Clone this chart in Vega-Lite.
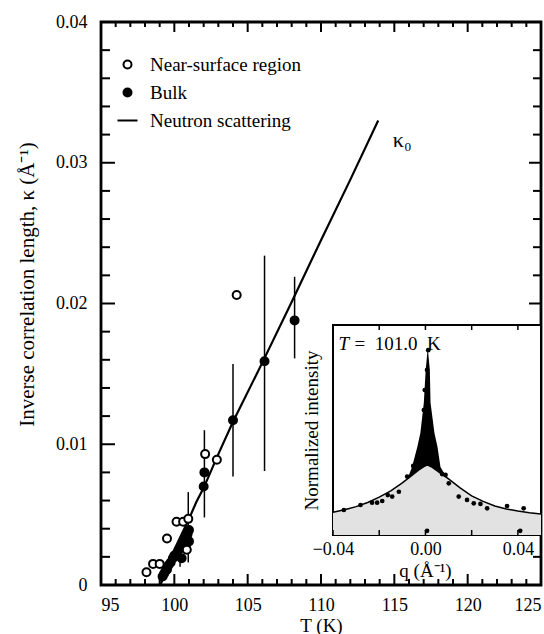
{
  "$schema": "https://vega.github.io/schema/vega-lite/v6.json",
  "autosize": {"type": "none"},
  "width": 440,
  "height": 563,
  "padding": {"left": 101, "top": 22, "right": 3, "bottom": 49},
  "view": {"stroke": "black", "strokeWidth": 2.8},
  "config": {"font": "Liberation Serif", "axis": {"labelColor": "black", "titleColor": "black", "ticks": false, "labelFont": "Liberation Serif", "titleFont": "Liberation Serif", "titleFontWeight": "normal", "grid": false, "domain": false, "labelOverlap": false, "labelFlush": false}},
  "datasets": {
    "fit": [
      {"T": 99.05, "kappa": 0.0},
      {"T": 99.5, "kappa": 0.0012},
      {"T": 100.0, "kappa": 0.0025},
      {"T": 100.5, "kappa": 0.0036},
      {"T": 101.0, "kappa": 0.0047},
      {"T": 101.5, "kappa": 0.0059},
      {"T": 102.0, "kappa": 0.0069},
      {"T": 103.0, "kappa": 0.0093},
      {"T": 104.0, "kappa": 0.0116},
      {"T": 106.0, "kappa": 0.0158},
      {"T": 108.0, "kappa": 0.0201},
      {"T": 110.0, "kappa": 0.0245},
      {"T": 112.0, "kappa": 0.0288},
      {"T": 113.9, "kappa": 0.033}
    ],
    "errs": [
      {"T": 100.39, "lo": 0.0013, "hi": 0.0025},
      {"T": 100.95, "lo": 0.0016, "hi": 0.0066},
      {"T": 102.05, "lo": 0.0048, "hi": 0.011},
      {"T": 104.0, "lo": 0.0077, "hi": 0.0157},
      {"T": 106.15, "lo": 0.0081, "hi": 0.0234},
      {"T": 108.2, "lo": 0.0161, "hi": 0.0219}
    ],
    "pts": [
      {"T": 99.2, "kappa": 0.0006, "region": "Bulk"},
      {"T": 99.3, "kappa": 0.0008, "region": "Bulk"},
      {"T": 99.4, "kappa": 0.001, "region": "Bulk"},
      {"T": 99.5, "kappa": 0.0011, "region": "Bulk"},
      {"T": 99.6, "kappa": 0.0014, "region": "Bulk"},
      {"T": 99.75, "kappa": 0.0016, "region": "Bulk"},
      {"T": 99.9, "kappa": 0.0019, "region": "Bulk"},
      {"T": 100.0, "kappa": 0.0021, "region": "Bulk"},
      {"T": 100.15, "kappa": 0.0022, "region": "Bulk"},
      {"T": 100.3, "kappa": 0.0025, "region": "Bulk"},
      {"T": 100.45, "kappa": 0.0027, "region": "Bulk"},
      {"T": 100.6, "kappa": 0.003, "region": "Bulk"},
      {"T": 100.75, "kappa": 0.0033, "region": "Bulk"},
      {"T": 100.9, "kappa": 0.0036, "region": "Bulk"},
      {"T": 101.0, "kappa": 0.0039, "region": "Bulk"},
      {"T": 100.5, "kappa": 0.0019, "region": "Bulk"},
      {"T": 100.8, "kappa": 0.0026, "region": "Bulk"},
      {"T": 101.0, "kappa": 0.0031, "region": "Bulk"},
      {"T": 102.0, "kappa": 0.007, "region": "Bulk"},
      {"T": 102.05, "kappa": 0.008, "region": "Bulk"},
      {"T": 104.0, "kappa": 0.0117, "region": "Bulk"},
      {"T": 106.15, "kappa": 0.0159, "region": "Bulk"},
      {"T": 108.2, "kappa": 0.0188, "region": "Bulk"},
      {"T": 98.1, "kappa": 0.0009, "region": "Near-surface region"},
      {"T": 98.55, "kappa": 0.0015, "region": "Near-surface region"},
      {"T": 99.0, "kappa": 0.0015, "region": "Near-surface region"},
      {"T": 99.5, "kappa": 0.0033, "region": "Near-surface region"},
      {"T": 100.15, "kappa": 0.0045, "region": "Near-surface region"},
      {"T": 100.6, "kappa": 0.0045, "region": "Near-surface region"},
      {"T": 100.95, "kappa": 0.0047, "region": "Near-surface region"},
      {"T": 100.85, "kappa": 0.0025, "region": "Near-surface region"},
      {"T": 102.1, "kappa": 0.0093, "region": "Near-surface region"},
      {"T": 102.9, "kappa": 0.0089, "region": "Near-surface region"},
      {"T": 104.25, "kappa": 0.0206, "region": "Near-surface region"}
    ],
    "labels": [
      {"T": 114.9, "kappa": 0.0316, "text": "κ₀"}
    ],
    "xMajor": [
      {"T": 95, "kb": 0, "kt": 0.04}, {"T": 100, "kb": 0, "kt": 0.04}, {"T": 105, "kb": 0, "kt": 0.04},
      {"T": 110, "kb": 0, "kt": 0.04}, {"T": 115, "kb": 0, "kt": 0.04}, {"T": 120, "kb": 0, "kt": 0.04},
      {"T": 125, "kb": 0, "kt": 0.04}
    ],
    "xMinor": [
      {"T": 96, "kb": 0, "kt": 0.04}, {"T": 97, "kb": 0, "kt": 0.04}, {"T": 98, "kb": 0, "kt": 0.04}, {"T": 99, "kb": 0, "kt": 0.04},
      {"T": 101, "kb": 0, "kt": 0.04}, {"T": 102, "kb": 0, "kt": 0.04}, {"T": 103, "kb": 0, "kt": 0.04}, {"T": 104, "kb": 0, "kt": 0.04},
      {"T": 106, "kb": 0, "kt": 0.04}, {"T": 107, "kb": 0, "kt": 0.04}, {"T": 108, "kb": 0, "kt": 0.04}, {"T": 109, "kb": 0, "kt": 0.04},
      {"T": 111, "kb": 0, "kt": 0.04}, {"T": 112, "kb": 0, "kt": 0.04}, {"T": 113, "kb": 0, "kt": 0.04}, {"T": 114, "kb": 0, "kt": 0.04},
      {"T": 116, "kb": 0, "kt": 0.04}, {"T": 117, "kb": 0, "kt": 0.04}, {"T": 118, "kb": 0, "kt": 0.04}, {"T": 119, "kb": 0, "kt": 0.04},
      {"T": 121, "kb": 0, "kt": 0.04}, {"T": 122, "kb": 0, "kt": 0.04}, {"T": 123, "kb": 0, "kt": 0.04}, {"T": 124, "kb": 0, "kt": 0.04}
    ],
    "yMajor": [
      {"kappa": 0, "tl": 95, "tr": 125}, {"kappa": 0.01, "tl": 95, "tr": 125}, {"kappa": 0.02, "tl": 95, "tr": 125},
      {"kappa": 0.03, "tl": 95, "tr": 125}, {"kappa": 0.04, "tl": 95, "tr": 125}
    ],
    "yMinor": [
      {"kappa": 0.002, "tl": 95, "tr": 125}, {"kappa": 0.004, "tl": 95, "tr": 125}, {"kappa": 0.006, "tl": 95, "tr": 125}, {"kappa": 0.008, "tl": 95, "tr": 125},
      {"kappa": 0.012, "tl": 95, "tr": 125}, {"kappa": 0.014, "tl": 95, "tr": 125}, {"kappa": 0.016, "tl": 95, "tr": 125}, {"kappa": 0.018, "tl": 95, "tr": 125},
      {"kappa": 0.022, "tl": 95, "tr": 125}, {"kappa": 0.024, "tl": 95, "tr": 125}, {"kappa": 0.026, "tl": 95, "tr": 125}, {"kappa": 0.028, "tl": 95, "tr": 125},
      {"kappa": 0.032, "tl": 95, "tr": 125}, {"kappa": 0.034, "tl": 95, "tr": 125}, {"kappa": 0.036, "tl": 95, "tr": 125}, {"kappa": 0.038, "tl": 95, "tr": 125}
    ],
    "qticks": [
      {"q": -0.04, "ib": 0, "it": 1}, {"q": -0.02, "ib": 0, "it": 1}, {"q": 0, "ib": 0, "it": 1},
      {"q": 0.02, "ib": 0, "it": 1}, {"q": 0.04, "ib": 0, "it": 1}
    ],
    "box": [
      {"q0": -0.04, "q1": 0.05, "i0": 0, "i1": 1}
    ],
    "broad": [
      {"q": -0.04, "I": 0.108}, {"q": -0.035, "I": 0.12}, {"q": -0.03, "I": 0.135},
      {"q": -0.025, "I": 0.155}, {"q": -0.02, "I": 0.18}, {"q": -0.015, "I": 0.21},
      {"q": -0.01, "I": 0.248}, {"q": -0.006, "I": 0.283}, {"q": -0.003, "I": 0.309},
      {"q": 0.0, "I": 0.33}, {"q": 0.001, "I": 0.333}, {"q": 0.003, "I": 0.322},
      {"q": 0.006, "I": 0.298}, {"q": 0.01, "I": 0.267}, {"q": 0.015, "I": 0.224},
      {"q": 0.02, "I": 0.186}, {"q": 0.025, "I": 0.16}, {"q": 0.03, "I": 0.138},
      {"q": 0.035, "I": 0.124}, {"q": 0.04, "I": 0.114}, {"q": 0.045, "I": 0.106},
      {"q": 0.05, "I": 0.1}
    ],
    "narrow": [
      {"q": -0.0075, "top": 0.275, "base": 0.272},
      {"q": -0.0058, "top": 0.324, "base": 0.284},
      {"q": -0.0035, "top": 0.42, "base": 0.305},
      {"q": -0.0022, "top": 0.486, "base": 0.315},
      {"q": -0.0007, "top": 0.63, "base": 0.325},
      {"q": 0.0001, "top": 0.786, "base": 0.331},
      {"q": 0.001, "top": 0.89, "base": 0.333},
      {"q": 0.0019, "top": 0.786, "base": 0.328},
      {"q": 0.0022, "top": 0.63, "base": 0.327},
      {"q": 0.0039, "top": 0.486, "base": 0.315},
      {"q": 0.0052, "top": 0.42, "base": 0.305},
      {"q": 0.0065, "top": 0.324, "base": 0.294},
      {"q": 0.009, "top": 0.277, "base": 0.275}
    ],
    "dots": [
      {"q": -0.0353, "I": 0.119}, {"q": -0.0281, "I": 0.143}, {"q": -0.0231, "I": 0.154},
      {"q": -0.0209, "I": 0.154}, {"q": -0.0187, "I": 0.162}, {"q": -0.0163, "I": 0.19},
      {"q": -0.0144, "I": 0.183}, {"q": -0.0115, "I": 0.206}, {"q": -0.0079, "I": 0.278},
      {"q": -0.0053, "I": 0.329}, {"q": -0.0014, "I": 0.46}, {"q": -0.0007, "I": 0.595},
      {"q": -0.0003, "I": 0.69}, {"q": 0.0007, "I": 0.786}, {"q": 0.0012, "I": 0.88},
      {"q": 0.0072, "I": 0.29}, {"q": 0.0087, "I": 0.286}, {"q": 0.0101, "I": 0.246},
      {"q": 0.0144, "I": 0.183}, {"q": 0.018, "I": 0.167}, {"q": 0.0209, "I": 0.151},
      {"q": 0.0238, "I": 0.148}, {"q": 0.0267, "I": 0.127}, {"q": 0.0353, "I": 0.138},
      {"q": 0.0425, "I": 0.127}, {"q": 0.0007, "I": 0.02}, {"q": 0.041, "I": 0.02}
    ],
    "insetText": [
      {"q": -0.0376, "I": 0.91, "a": "T", "b": "= \u00a0101.0\u00a0 K"}
    ]
  },
  "layer": [
    {
      "layer": [
        {
          "data": {"name": "fit"},
          "mark": {"type": "line", "color": "black", "strokeWidth": 2.2},
          "encoding": {
            "x": {"field": "T", "type": "quantitative",
              "scale": {"domain": [95, 125], "nice": false, "zero": false},
              "axis": {"orient": "bottom", "values": [95, 100, 105, 110, 115, 120, 125],
                "labelPadding": 11, "labelFontSize": 18, "labelFlush": true,
                "title": "T (K)", "titleFontSize": 19, "titlePadding": 2}},
            "y": {"field": "kappa", "type": "quantitative",
              "scale": {"domain": [0, 0.04], "nice": false, "zero": false},
              "axis": {"orient": "left", "values": [0, 0.01, 0.02, 0.03, 0.04],
                "labelExpr": "datum.value == 0 ? '0' : format(datum.value, '.2f')",
                "labelPadding": 14, "labelFontSize": 18,
                "title": "Inverse correlation length, κ (Å⁻¹)", "titleFontSize": 21, "titlePadding": 18, "titleY": 262}}
          }
        },
        {
          "data": {"name": "errs"},
          "mark": {"type": "rule", "color": "black", "strokeWidth": 1.5},
          "encoding": {
            "x": {"field": "T", "type": "quantitative", "axis": null},
            "y": {"field": "lo", "type": "quantitative", "axis": null},
            "y2": {"field": "hi"}
          }
        },
        {
          "data": {"name": "pts"},
          "mark": {"type": "point", "filled": true, "strokeWidth": 2, "size": 64, "opacity": 1},
          "encoding": {
            "x": {"field": "T", "type": "quantitative", "axis": null},
            "y": {"field": "kappa", "type": "quantitative", "axis": null},
            "fill": {"field": "region", "type": "nominal",
              "scale": {"domain": ["Near-surface region", "Bulk", "Neutron scattering"], "range": ["white", "black", "black"]},
              "legend": {"orient": "none", "legendX": 17, "legendY": 33, "title": null, "labelFont": "Liberation Serif", "labelFontSize": 19, "labelColor": "black", "symbolSize": 64, "symbolStrokeWidth": 2, "rowPadding": 8, "labelOffset": 13}},
            "shape": {"field": "region", "type": "nominal",
              "scale": {"domain": ["Near-surface region", "Bulk", "Neutron scattering"], "range": ["circle", "circle", "M-2.5,0H2.5"]},
              "legend": {"orient": "none", "legendX": 17, "legendY": 33, "title": null, "labelFont": "Liberation Serif", "labelFontSize": 19, "labelColor": "black", "symbolSize": 64, "symbolStrokeWidth": 2, "rowPadding": 8, "labelOffset": 13}},
            "stroke": {"field": "region", "type": "nominal",
              "scale": {"domain": ["Near-surface region", "Bulk", "Neutron scattering"], "range": ["black", "black", "black"]},
              "legend": {"orient": "none", "legendX": 17, "legendY": 33, "title": null, "labelFont": "Liberation Serif", "labelFontSize": 19, "labelColor": "black", "symbolSize": 64, "symbolStrokeWidth": 2, "rowPadding": 8, "labelOffset": 13}}
          }
        },
        {
          "data": {"name": "labels"},
          "mark": {"type": "text", "fontSize": 22, "font": "Liberation Serif", "color": "black", "align": "left", "baseline": "middle"},
          "encoding": {
            "x": {"field": "T", "type": "quantitative", "axis": null},
            "y": {"field": "kappa", "type": "quantitative", "axis": null},
            "text": {"field": "text"}
          }
        },
        {
          "data": {"name": "xMajor"},
          "mark": {"type": "point", "shape": "M0,0V-1", "size": 484, "filled": false, "stroke": "black", "strokeWidth": 2, "opacity": 1},
          "encoding": {
            "x": {"field": "T", "type": "quantitative", "axis": null},
            "y": {"field": "kb", "type": "quantitative", "axis": null}
          }
        },
        {
          "data": {"name": "xMinor"},
          "mark": {"type": "point", "shape": "M0,0V-1", "size": 144, "filled": false, "stroke": "black", "strokeWidth": 2, "opacity": 1},
          "encoding": {
            "x": {"field": "T", "type": "quantitative", "axis": null},
            "y": {"field": "kb", "type": "quantitative", "axis": null}
          }
        },
        {
          "data": {"name": "xMajor"},
          "mark": {"type": "point", "shape": "M0,0V1", "size": 400, "filled": false, "stroke": "black", "strokeWidth": 2, "opacity": 1},
          "encoding": {
            "x": {"field": "T", "type": "quantitative", "axis": null},
            "y": {"field": "kt", "type": "quantitative", "axis": null}
          }
        },
        {
          "data": {"name": "xMinor"},
          "mark": {"type": "point", "shape": "M0,0V1", "size": 100, "filled": false, "stroke": "black", "strokeWidth": 2, "opacity": 1},
          "encoding": {
            "x": {"field": "T", "type": "quantitative", "axis": null},
            "y": {"field": "kt", "type": "quantitative", "axis": null}
          }
        },
        {
          "data": {"name": "yMajor"},
          "mark": {"type": "point", "shape": "M0,0H1", "size": 784, "filled": false, "stroke": "black", "strokeWidth": 2, "opacity": 1},
          "encoding": {
            "x": {"field": "tl", "type": "quantitative", "axis": null},
            "y": {"field": "kappa", "type": "quantitative", "axis": null}
          }
        },
        {
          "data": {"name": "yMinor"},
          "mark": {"type": "point", "shape": "M0,0H1", "size": 324, "filled": false, "stroke": "black", "strokeWidth": 2, "opacity": 1},
          "encoding": {
            "x": {"field": "tl", "type": "quantitative", "axis": null},
            "y": {"field": "kappa", "type": "quantitative", "axis": null}
          }
        },
        {
          "data": {"name": "yMajor"},
          "mark": {"type": "point", "shape": "M0,0H-1", "size": 576, "filled": false, "stroke": "black", "strokeWidth": 2, "opacity": 1},
          "encoding": {
            "x": {"field": "tr", "type": "quantitative", "axis": null},
            "y": {"field": "kappa", "type": "quantitative", "axis": null}
          }
        },
        {
          "data": {"name": "yMinor"},
          "mark": {"type": "point", "shape": "M0,0H-1", "size": 256, "filled": false, "stroke": "black", "strokeWidth": 2, "opacity": 1},
          "encoding": {
            "x": {"field": "tr", "type": "quantitative", "axis": null},
            "y": {"field": "kappa", "type": "quantitative", "axis": null}
          }
        }
      ],
      "resolve": {"axis": {"x": "independent", "y": "independent"}}
    },
    {
      "layer": [
        {
          "data": {"name": "box"},
          "mark": {"type": "rect", "fill": "white", "stroke": "black", "strokeWidth": 2},
          "encoding": {
            "x": {"field": "q0", "type": "quantitative",
              "scale": {"domain": [-0.04, 0.05], "range": [232, 440], "nice": false, "zero": false},
              "axis": {"orient": "bottom", "offset": -50, "zindex": 1, "values": [-0.04, 0, 0.04],
                "labelExpr": "format(datum.value, '.2f')",
                "labelPadding": 5, "labelFontSize": 18,
                "title": "q (Å⁻¹)", "titleFontSize": 19, "titlePadding": 3, "titleX": 324}},
            "x2": {"field": "q1"},
            "y": {"field": "i0", "type": "quantitative",
              "scale": {"domain": [0, 1], "range": [513, 303], "nice": false, "zero": false},
              "axis": {"orient": "left", "offset": -232, "zindex": 1, "labels": false,
                "title": "Normalized intensity", "titleFontSize": 19, "titlePadding": 12}},
            "y2": {"field": "i1"}
          }
        },
        {
          "data": {"name": "broad"},
          "mark": {"type": "area", "color": "#e2e2e2"},
          "encoding": {
            "x": {"field": "q", "type": "quantitative", "axis": null},
            "y": {"field": "I", "type": "quantitative", "axis": null}
          }
        },
        {
          "data": {"name": "narrow"},
          "mark": {"type": "area", "color": "black"},
          "encoding": {
            "x": {"field": "q", "type": "quantitative", "axis": null},
            "y": {"field": "top", "type": "quantitative", "axis": null},
            "y2": {"field": "base"}
          }
        },
        {
          "data": {"name": "broad"},
          "mark": {"type": "line", "color": "black", "strokeWidth": 1.5},
          "encoding": {
            "x": {"field": "q", "type": "quantitative", "axis": null},
            "y": {"field": "I", "type": "quantitative", "axis": null}
          }
        },
        {
          "data": {"name": "dots"},
          "mark": {"type": "point", "filled": true, "color": "black", "size": 22, "opacity": 1},
          "encoding": {
            "x": {"field": "q", "type": "quantitative", "axis": null},
            "y": {"field": "I", "type": "quantitative", "axis": null}
          }
        },
        {
          "data": {"name": "qticks"},
          "mark": {"type": "point", "shape": "M0,0V-1", "size": 100, "filled": false, "stroke": "black", "strokeWidth": 1.5, "opacity": 1},
          "encoding": {
            "x": {"field": "q", "type": "quantitative", "axis": null},
            "y": {"field": "ib", "type": "quantitative", "axis": null}
          }
        },
        {
          "data": {"name": "qticks"},
          "mark": {"type": "point", "shape": "M0,0V1", "size": 100, "filled": false, "stroke": "black", "strokeWidth": 1.5, "opacity": 1},
          "encoding": {
            "x": {"field": "q", "type": "quantitative", "axis": null},
            "y": {"field": "it", "type": "quantitative", "axis": null}
          }
        },
        {
          "data": {"name": "insetText"},
          "mark": {"type": "text", "fontSize": 19, "font": "Liberation Serif", "fontStyle": "italic", "color": "black", "align": "left", "baseline": "middle"},
          "encoding": {
            "x": {"field": "q", "type": "quantitative", "axis": null},
            "y": {"field": "I", "type": "quantitative", "axis": null},
            "text": {"field": "a"}
          }
        },
        {
          "data": {"name": "insetText"},
          "mark": {"type": "text", "fontSize": 19, "font": "Liberation Serif", "color": "black", "align": "left", "baseline": "middle", "dx": 16},
          "encoding": {
            "x": {"field": "q", "type": "quantitative", "axis": null},
            "y": {"field": "I", "type": "quantitative", "axis": null},
            "text": {"field": "b"}
          }
        }
      ],
      "resolve": {"axis": {"x": "independent", "y": "independent"}}
    }
  ],
  "resolve": {"scale": {"x": "independent", "y": "independent"}, "axis": {"x": "independent", "y": "independent"}}
}
